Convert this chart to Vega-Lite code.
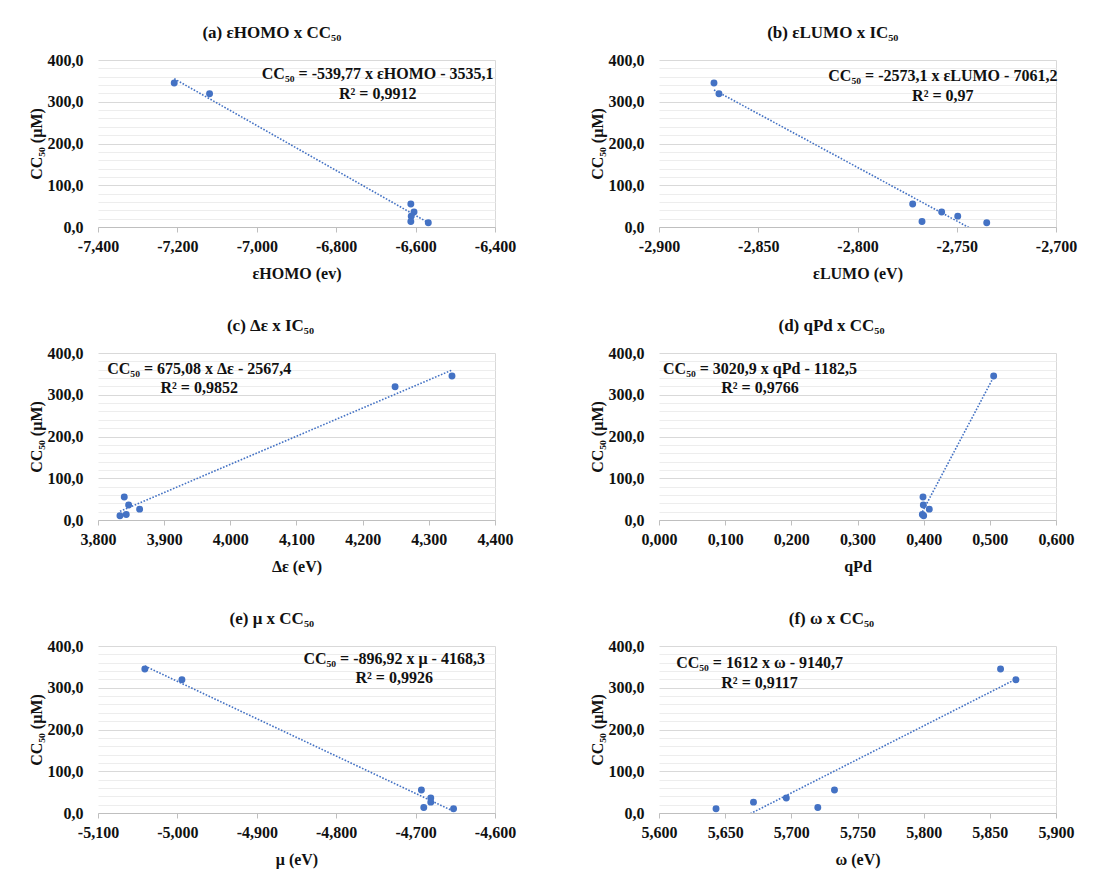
{
  "$schema": "https://vega.github.io/schema/vega-lite/v6.json",
  "background": "white",
  "padding": {"left": 28, "top": 24, "right": 5, "bottom": 5},
  "datasets": {
    "pts": [
      {"compound": "A", "cc50": 345, "homo": -7.208, "lumo": -2.8723, "gap": 4.335, "qpd": 0.5058, "mu": -5.041, "omega": 5.8581},
      {"compound": "B", "cc50": 319, "homo": -7.119, "lumo": -2.8698, "gap": 4.249, "qpd": null, "mu": -4.9943, "omega": 5.8697},
      {"compound": "C", "cc50": 55, "homo": -6.612, "lumo": -2.7722, "gap": 3.8397, "qpd": 0.399, "mu": -4.6927, "omega": 5.7326},
      {"compound": "D", "cc50": 36, "homo": -6.604, "lumo": -2.7576, "gap": 3.8463, "qpd": 0.3995, "mu": -4.6809, "omega": 5.6962},
      {"compound": "E", "cc50": 26, "homo": -6.611, "lumo": -2.7495, "gap": 3.8629, "qpd": 0.4085, "mu": -4.6809, "omega": 5.6714},
      {"compound": "F", "cc50": 13, "homo": -6.612, "lumo": -2.7675, "gap": 3.8427, "qpd": 0.398, "mu": -4.6897, "omega": 5.72},
      {"compound": "G", "cc50": 10, "homo": -6.568, "lumo": -2.7349, "gap": 3.8332, "qpd": 0.4, "mu": -4.6522, "omega": 5.6431}
    ]
  },
  "spacing": 36,
  "vconcat": [
    {
      "bounds": "flush",
      "spacing": 164,
      "hconcat": [
        {
          "width": 397, "height": 167,
          "title": "(a) εHOMO x CC₅₀",
          "data": {"name": "pts"},
          "encoding": {
            "x": {"field": "homo", "type": "quantitative", "scale": {"domain": [-7.4, -6.4], "nice": false, "zero": false},
              "axis": {"title": "εHOMO (ev)", "values": [-7.4, -7.2, -7.0, -6.8, -6.6, -6.4], "format": ".3f", "domainColor": "#bfbfbf", "tickColor": "#bfbfbf", "tickSize": 5, "labelPadding": 6, "titlePadding": 11, "labelOverlap": false, "labelFlush": false, "grid": true, "gridColor": "#d9d9d9", "gridOpacity": {"condition": {"test": "datum.index === 1", "value": 1}, "value": 0}}},
            "y": {"field": "cc50", "type": "quantitative", "scale": {"domain": [0, 400], "nice": false},
              "axis": {"title": "CC₅₀ (µM)", "values": [0, 20, 40, 60, 80, 100, 120, 140, 160, 180, 200, 220, 240, 260, 280, 300, 320, 340, 360, 380, 400], "format": ".1f", "labelExpr": "datum.value % 100 === 0 ? datum.label : ''", "ticks": false, "domain": false, "labelPadding": 15, "titlePadding": 3, "labelOverlap": false, "labelFlush": false, "gridColor": {"condition": {"test": "datum.value % 100 === 0", "value": "#d9d9d9"}, "value": "#ededed"}}}
          },
          "layer": [
            {"transform": [{"regression": "cc50", "on": "homo"}], "mark": {"type": "line", "clip": true, "color": "#4472C4", "strokeWidth": 1.6, "strokeDash": [1.6, 1.6]}},
            {"mark": {"type": "circle", "size": 48, "color": "#4472C4", "opacity": 1}},
            {"transform": [{"filter": "datum.compound === 'A'"}],
              "mark": {"type": "text", "align": "center", "baseline": "middle", "lineBreak": "\n", "lineHeight": 19.5, "fontSize": 16, "fontWeight": "bold", "font": "Liberation Serif", "color": "#111111", "text": "CC₅₀ = -539,77 x εHOMO - 3535,1\nR² = 0,9912"},
              "encoding": {"x": {"datum": -6.6955, "type": "quantitative"}, "y": {"datum": 366, "type": "quantitative"}}}
          ]
        },
        {
          "width": 397, "height": 167,
          "title": "(b) εLUMO x IC₅₀",
          "data": {"name": "pts"},
          "encoding": {
            "x": {"field": "lumo", "type": "quantitative", "scale": {"domain": [-2.9, -2.7], "nice": false, "zero": false},
              "axis": {"title": "εLUMO (eV)", "values": [-2.9, -2.85, -2.8, -2.75, -2.7], "format": ".3f", "domainColor": "#bfbfbf", "tickColor": "#bfbfbf", "tickSize": 5, "labelPadding": 6, "titlePadding": 11, "labelOverlap": false, "labelFlush": false, "grid": true, "gridColor": "#d9d9d9", "gridOpacity": {"condition": {"test": "datum.index === 1", "value": 1}, "value": 0}}},
            "y": {"field": "cc50", "type": "quantitative", "scale": {"domain": [0, 400], "nice": false},
              "axis": {"title": "CC₅₀ (µM)", "values": [0, 20, 40, 60, 80, 100, 120, 140, 160, 180, 200, 220, 240, 260, 280, 300, 320, 340, 360, 380, 400], "format": ".1f", "labelExpr": "datum.value % 100 === 0 ? datum.label : ''", "ticks": false, "domain": false, "labelPadding": 15, "titlePadding": 3, "labelOverlap": false, "labelFlush": false, "gridColor": {"condition": {"test": "datum.value % 100 === 0", "value": "#d9d9d9"}, "value": "#ededed"}}}
          },
          "layer": [
            {"transform": [{"regression": "cc50", "on": "lumo"}], "mark": {"type": "line", "clip": true, "color": "#4472C4", "strokeWidth": 1.6, "strokeDash": [1.6, 1.6]}},
            {"mark": {"type": "circle", "size": 48, "color": "#4472C4", "opacity": 1}},
            {"transform": [{"filter": "datum.compound === 'A'"}],
              "mark": {"type": "text", "align": "center", "baseline": "middle", "lineBreak": "\n", "lineHeight": 19.5, "fontSize": 16, "fontWeight": "bold", "font": "Liberation Serif", "color": "#111111", "text": "CC₅₀ = -2573,1 x εLUMO - 7061,2\nR² = 0,97"},
              "encoding": {"x": {"datum": -2.757, "type": "quantitative"}, "y": {"datum": 361, "type": "quantitative"}}}
          ]
        }
      ]
    },
    {
      "bounds": "flush",
      "spacing": 164,
      "hconcat": [
        {
          "width": 397, "height": 167,
          "title": "(c) Δε x IC₅₀",
          "data": {"name": "pts"},
          "encoding": {
            "x": {"field": "gap", "type": "quantitative", "scale": {"domain": [3.8, 4.4], "nice": false, "zero": false},
              "axis": {"title": "Δε (eV)", "values": [3.8, 3.9, 4.0, 4.1, 4.2, 4.3, 4.4], "format": ".3f", "domainColor": "#bfbfbf", "tickColor": "#bfbfbf", "tickSize": 5, "labelPadding": 6, "titlePadding": 11, "labelOverlap": false, "labelFlush": false, "grid": true, "gridColor": "#d9d9d9", "gridOpacity": {"condition": {"test": "datum.index === 1", "value": 1}, "value": 0}}},
            "y": {"field": "cc50", "type": "quantitative", "scale": {"domain": [0, 400], "nice": false},
              "axis": {"title": "CC₅₀ (µM)", "values": [0, 20, 40, 60, 80, 100, 120, 140, 160, 180, 200, 220, 240, 260, 280, 300, 320, 340, 360, 380, 400], "format": ".1f", "labelExpr": "datum.value % 100 === 0 ? datum.label : ''", "ticks": false, "domain": false, "labelPadding": 15, "titlePadding": 3, "labelOverlap": false, "labelFlush": false, "gridColor": {"condition": {"test": "datum.value % 100 === 0", "value": "#d9d9d9"}, "value": "#ededed"}}}
          },
          "layer": [
            {"transform": [{"regression": "cc50", "on": "gap"}], "mark": {"type": "line", "clip": true, "color": "#4472C4", "strokeWidth": 1.6, "strokeDash": [1.6, 1.6]}},
            {"mark": {"type": "circle", "size": 48, "color": "#4472C4", "opacity": 1}},
            {"transform": [{"filter": "datum.compound === 'A'"}],
              "mark": {"type": "text", "align": "center", "baseline": "middle", "lineBreak": "\n", "lineHeight": 19.5, "fontSize": 16, "fontWeight": "bold", "font": "Liberation Serif", "color": "#111111", "text": "CC₅₀ = 675,08 x Δε - 2567,4\nR² = 0,9852"},
              "encoding": {"x": {"datum": 3.953, "type": "quantitative"}, "y": {"datum": 362, "type": "quantitative"}}}
          ]
        },
        {
          "width": 397, "height": 167,
          "title": "(d) qPd x CC₅₀",
          "data": {"name": "pts"},
          "encoding": {
            "x": {"field": "qpd", "type": "quantitative", "scale": {"domain": [0, 0.6], "nice": false, "zero": false},
              "axis": {"title": "qPd", "values": [0, 0.1, 0.2, 0.3, 0.4, 0.5, 0.6], "format": ".3f", "domainColor": "#bfbfbf", "tickColor": "#bfbfbf", "tickSize": 5, "labelPadding": 6, "titlePadding": 11, "labelOverlap": false, "labelFlush": false, "grid": true, "gridColor": "#d9d9d9", "gridOpacity": {"condition": {"test": "datum.index === 1", "value": 1}, "value": 0}}},
            "y": {"field": "cc50", "type": "quantitative", "scale": {"domain": [0, 400], "nice": false},
              "axis": {"title": "CC₅₀ (µM)", "values": [0, 20, 40, 60, 80, 100, 120, 140, 160, 180, 200, 220, 240, 260, 280, 300, 320, 340, 360, 380, 400], "format": ".1f", "labelExpr": "datum.value % 100 === 0 ? datum.label : ''", "ticks": false, "domain": false, "labelPadding": 15, "titlePadding": 3, "labelOverlap": false, "labelFlush": false, "gridColor": {"condition": {"test": "datum.value % 100 === 0", "value": "#d9d9d9"}, "value": "#ededed"}}}
          },
          "layer": [
            {"transform": [{"filter": "datum.qpd != null"}, {"regression": "cc50", "on": "qpd"}], "mark": {"type": "line", "clip": true, "color": "#4472C4", "strokeWidth": 1.6, "strokeDash": [1.6, 1.6]}},
            {"transform": [{"filter": "datum.qpd != null"}], "mark": {"type": "circle", "size": 48, "color": "#4472C4", "opacity": 1}},
            {"transform": [{"filter": "datum.compound === 'A'"}],
              "mark": {"type": "text", "align": "center", "baseline": "middle", "lineBreak": "\n", "lineHeight": 19.5, "fontSize": 16, "fontWeight": "bold", "font": "Liberation Serif", "color": "#111111", "text": "CC₅₀ = 3020,9 x qPd - 1182,5\nR² = 0,9766"},
              "encoding": {"x": {"datum": 0.1526, "type": "quantitative"}, "y": {"datum": 362, "type": "quantitative"}}}
          ]
        }
      ]
    },
    {
      "bounds": "flush",
      "spacing": 164,
      "hconcat": [
        {
          "width": 397, "height": 167,
          "title": "(e) μ x CC₅₀",
          "data": {"name": "pts"},
          "encoding": {
            "x": {"field": "mu", "type": "quantitative", "scale": {"domain": [-5.1, -4.6], "nice": false, "zero": false},
              "axis": {"title": "μ (eV)", "values": [-5.1, -5.0, -4.9, -4.8, -4.7, -4.6], "format": ".3f", "domainColor": "#bfbfbf", "tickColor": "#bfbfbf", "tickSize": 5, "labelPadding": 6, "titlePadding": 11, "labelOverlap": false, "labelFlush": false, "grid": true, "gridColor": "#d9d9d9", "gridOpacity": {"condition": {"test": "datum.index === 1", "value": 1}, "value": 0}}},
            "y": {"field": "cc50", "type": "quantitative", "scale": {"domain": [0, 400], "nice": false},
              "axis": {"title": "CC₅₀ (µM)", "values": [0, 20, 40, 60, 80, 100, 120, 140, 160, 180, 200, 220, 240, 260, 280, 300, 320, 340, 360, 380, 400], "format": ".1f", "labelExpr": "datum.value % 100 === 0 ? datum.label : ''", "ticks": false, "domain": false, "labelPadding": 15, "titlePadding": 3, "labelOverlap": false, "labelFlush": false, "gridColor": {"condition": {"test": "datum.value % 100 === 0", "value": "#d9d9d9"}, "value": "#ededed"}}}
          },
          "layer": [
            {"transform": [{"regression": "cc50", "on": "mu"}], "mark": {"type": "line", "clip": true, "color": "#4472C4", "strokeWidth": 1.6, "strokeDash": [1.6, 1.6]}},
            {"mark": {"type": "circle", "size": 48, "color": "#4472C4", "opacity": 1}},
            {"transform": [{"filter": "datum.compound === 'A'"}],
              "mark": {"type": "text", "align": "center", "baseline": "middle", "lineBreak": "\n", "lineHeight": 19.5, "fontSize": 16, "fontWeight": "bold", "font": "Liberation Serif", "color": "#111111", "text": "CC₅₀ = -896,92 x μ - 4168,3\nR² = 0,9926"},
              "encoding": {"x": {"datum": -4.727, "type": "quantitative"}, "y": {"datum": 369, "type": "quantitative"}}}
          ]
        },
        {
          "width": 397, "height": 167,
          "title": "(f) ω x CC₅₀",
          "data": {"name": "pts"},
          "encoding": {
            "x": {"field": "omega", "type": "quantitative", "scale": {"domain": [5.6, 5.9], "nice": false, "zero": false},
              "axis": {"title": "ω (eV)", "values": [5.6, 5.65, 5.7, 5.75, 5.8, 5.85, 5.9], "format": ".3f", "domainColor": "#bfbfbf", "tickColor": "#bfbfbf", "tickSize": 5, "labelPadding": 6, "titlePadding": 11, "labelOverlap": false, "labelFlush": false, "grid": true, "gridColor": "#d9d9d9", "gridOpacity": {"condition": {"test": "datum.index === 1", "value": 1}, "value": 0}}},
            "y": {"field": "cc50", "type": "quantitative", "scale": {"domain": [0, 400], "nice": false},
              "axis": {"title": "CC₅₀ (µM)", "values": [0, 20, 40, 60, 80, 100, 120, 140, 160, 180, 200, 220, 240, 260, 280, 300, 320, 340, 360, 380, 400], "format": ".1f", "labelExpr": "datum.value % 100 === 0 ? datum.label : ''", "ticks": false, "domain": false, "labelPadding": 15, "titlePadding": 3, "labelOverlap": false, "labelFlush": false, "gridColor": {"condition": {"test": "datum.value % 100 === 0", "value": "#d9d9d9"}, "value": "#ededed"}}}
          },
          "layer": [
            {"transform": [{"regression": "cc50", "on": "omega"}], "mark": {"type": "line", "clip": true, "color": "#4472C4", "strokeWidth": 1.6, "strokeDash": [1.6, 1.6]}},
            {"mark": {"type": "circle", "size": 48, "color": "#4472C4", "opacity": 1}},
            {"transform": [{"filter": "datum.compound === 'A'"}],
              "mark": {"type": "text", "align": "center", "baseline": "middle", "lineBreak": "\n", "lineHeight": 19.5, "fontSize": 16, "fontWeight": "bold", "font": "Liberation Serif", "color": "#111111", "text": "CC₅₀ = 1612 x ω - 9140,7\nR² = 0,9117"},
              "encoding": {"x": {"datum": 5.676, "type": "quantitative"}, "y": {"datum": 359, "type": "quantitative"}}}
          ]
        }
      ]
    }
  ],
  "config": {
    "font": "Liberation Serif",
    "view": {"stroke": null},
    "title": {"font": "Liberation Serif", "fontSize": 17, "fontWeight": "bold", "color": "#111111", "anchor": "middle", "frame": "bounds", "offset": 10},
    "axis": {"labelFont": "Liberation Serif", "labelFontSize": 16, "labelFontWeight": "bold", "labelColor": "#111111", "titleFont": "Liberation Serif", "titleFontSize": 16, "titleFontWeight": "bold", "titleColor": "#111111"},
    "locale": {"number": {"decimal": ",", "thousands": ".", "grouping": [3], "currency": ["", ""], "minus": "-"}}
  }
}
